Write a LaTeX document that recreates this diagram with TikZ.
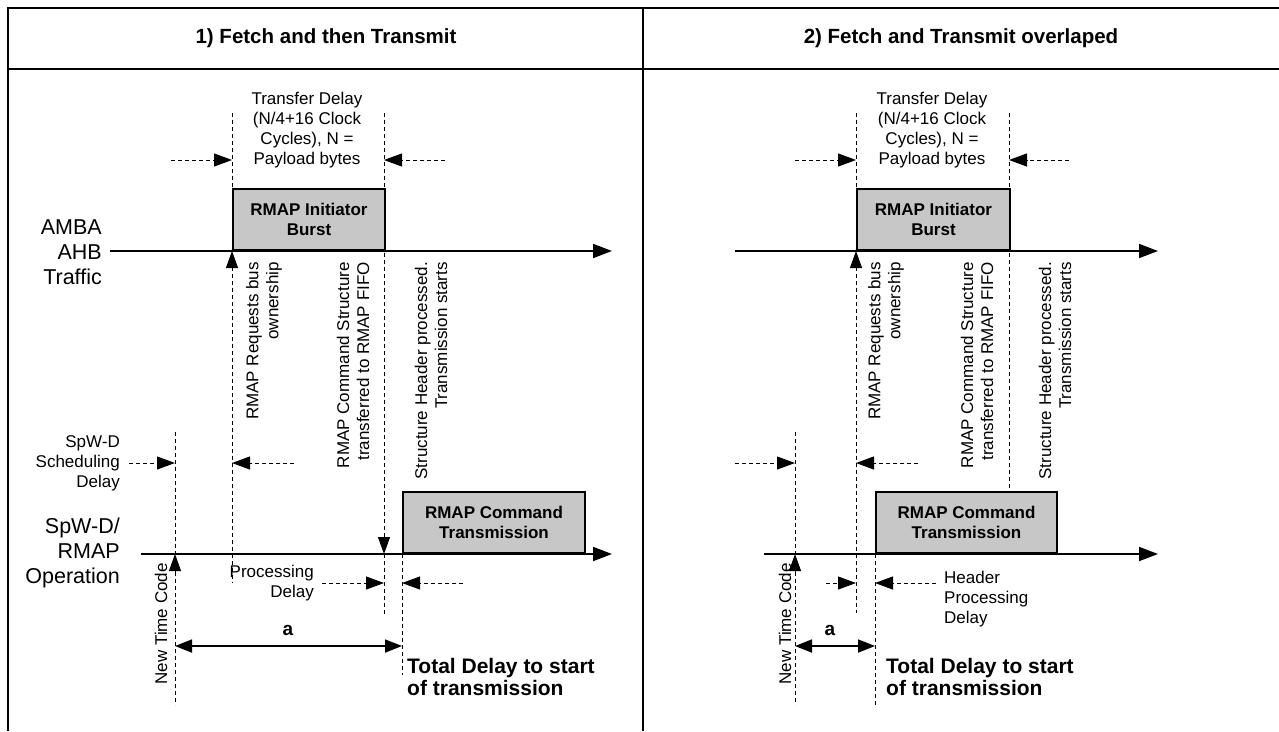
\documentclass[tikz,border=0pt]{standalone}
\usepackage{fontspec}
\setmainfont{Liberation Sans}
\usetikzlibrary{arrows.meta, positioning}

\begin{document}
\begin{tikzpicture}[x=1pt, y=-1pt,
    txt/.style={font=\fontsize{17}{20}\selectfont, inner sep=0pt},
    bigtxt/.style={font=\fontsize{21.5}{25}\selectfont, inner sep=0pt, align=right, anchor=east},
    vtxt/.style={txt, rotate=90, anchor=east, align=right},
    boldtxt/.style={font=\fontsize{21}{22}\selectfont\bfseries, inner sep=0pt, align=left, anchor=west},
    title/.style={font=\fontsize{20.5}{22}\selectfont\bfseries, inner sep=0pt},
    burst/.style={draw, line width=2pt, fill=black!22, font=\fontsize{17}{20}\selectfont\bfseries,
        align=center, inner sep=0pt, anchor=south west, minimum height=61pt},
    guide/.style={line width=0.9pt, dash pattern=on 4pt off 3pt},
    dly/.style={guide, -{Triangle[length=18pt, width=13pt]}},
    tip/.style={line width=0.9pt, -{Triangle[length=17pt, width=12pt]}},
    axis/.style={line width=1.8pt, -{Triangle[length=19pt, width=14pt]}},
    dim/.style={line width=1.8pt, {Triangle[length=17pt, width=13pt]}-{Triangle[length=17pt, width=13pt]}}]

\useasboundingbox (0,0) rectangle (1279,731);

% Frame of the table
\coordinate (tl) at (8,8);
\coordinate (tr) at (1279,8);
\coordinate (ml) at (8,69);
\coordinate (mr) at (1279,69);
\coordinate (bl) at (8,731);
\coordinate (tm) at (643,8);
\coordinate (bm) at (643,731);
\draw[line width=1.8pt] (bl) -- (tl) -- (tr);
\draw[line width=1.8pt] (ml) -- (mr);
\draw[line width=1.8pt] (tm) -- (bm);

\node[title] (L-title) at (326,38) {1) Fetch and then Transmit};
\node[title] (R-title) at (961,38) {2) Fetch and Transmit overlaped};

% Points used by the left panel
\foreach \n/\x/\y in {L-v1t/232/113, L-v1b/232/583, L-v2t/384/113, L-v2b/384/615,
    L-v3t/175/432, L-v3b/175/705, L-v4t/402/554, L-v4b/402/675,
    L-e1/171/160, L-e2/445/160, L-e3/129/463, L-e4/294/463, L-e5/322/583, L-e6/463/583,
    L-u1/232/270, L-u2/384/535, L-u3/175/573,
    L-ax1/110/251, L-ax2/612/251, L-ax3/141/554, L-ax4/612/554,
    L-m1/175/646, L-m2/402/646}
{
    \coordinate (\n) at (\x,\y);
}

% Points used by the right panel
\foreach \n/\x/\y in {R-v1t/856/113, R-v1b/856/613, R-v2t/1009/113, R-v2b/1009/493,
    R-v3t/795/432, R-v3b/795/705, R-v4t/875/554, R-v4b/875/705,
    R-e1/795/160, R-e2/1069/160, R-e3/735/463, R-e4/918/463, R-e5/826/583, R-e6/936/583,
    R-u1/856/270, R-u3/795/573,
    R-ax1/735/251, R-ax2/1158/251, R-ax3/764/554, R-ax4/1158/554,
    R-m1/795/646, R-m2/875/646}
{
    \coordinate (\n) at (\x,\y);
}

% Dashed time marks
\foreach \p in {L, R}
{
    \draw[guide] (\p-v1t) -- (\p-v1b);
    \draw[guide] (\p-v2t) -- (\p-v2b);
    \draw[guide] (\p-v3t) -- (\p-v3b);
    \draw[guide] (\p-v4t) -- (\p-v4b);
}

% Bus and link time axes
\foreach \p in {L, R}
{
    \draw[axis] (\p-ax1) -- (\p-ax2);
    \draw[axis] (\p-ax3) -- (\p-ax4);
}

% Activity boxes
\node[burst, minimum width=152pt] (L-burst) at (232,251) {RMAP Initiator\\Burst};
\node[burst, minimum width=182pt] (L-cmd) at (402,554) {RMAP Command\\Transmission};
\node[burst, minimum width=153pt] (R-burst) at (856,251) {RMAP Initiator\\Burst};
\node[burst, minimum width=181pt] (R-cmd) at (875,554) {RMAP Command\\Transmission};

% Delay arrows
\draw[dly] (L-e1) -- (L-e1 -| L-v1t);
\draw[dly] (L-e2) -- (L-e2 -| L-v2t);
\draw[dly] (L-e3) -- (L-e3 -| L-v3t);
\draw[dly] (L-e4) -- (L-e4 -| L-v1t);
\draw[dly] (L-e5) -- (L-e5 -| L-v2t);
\draw[dly] (L-e6) -- (L-e6 -| L-v4t);
\draw[dly] (R-e1) -- (R-e1 -| R-v1t);
\draw[dly] (R-e2) -- (R-e2 -| R-v2t);
\draw[dly] (R-e3) -- (R-e3 -| R-v3t);
\draw[dly] (R-e4) -- (R-e4 -| R-v1t);
\draw[dly] (R-e5) -- (R-e5 -| R-v1t);
\draw[dly] (R-e6) -- (R-e6 -| R-v4t);

% Event tips on the axes
\draw[tip] (L-u1) -- (L-u1 |- L-ax1);
\draw[tip] (L-u2) -- (L-u2 |- L-ax3);
\draw[tip] (L-u3) -- (L-u3 |- L-ax3);
\draw[tip] (R-u1) -- (R-u1 |- R-ax1);
\draw[tip] (R-u3) -- (R-u3 |- R-ax3);

% Total delay
\draw[dim] (L-m1) -- (L-m2);
\draw[dim] (R-m1) -- (R-m2);
\node[title, font=\fontsize{19}{20}\selectfont\bfseries] (L-a) at (288,630) {a};
\node[title, font=\fontsize{19}{20}\selectfont\bfseries] (R-a) at (830,630) {a};
\node[boldtxt] (L-total) at (407,677) {Total Delay to start\\of transmission};
\node[boldtxt] (R-total) at (886,677) {Total Delay to start\\of transmission};

% Left panel labels
\node[txt, align=center] (L-td) at (307,130) {Transfer Delay\\(N/4+16 Clock\\Cycles), N =\\Payload bytes};
\node[bigtxt] (L-amba) at (102,252) {AMBA\\AHB\\Traffic};
\node[bigtxt] (L-spw) at (120,553) {SpW-D/\\RMAP\\Operation};
\node[txt, align=right, anchor=east] (L-sched) at (120,463) {SpW-D\\Scheduling\\Delay};
\node[txt, align=right, anchor=east] (L-proc) at (314,583) {Processing\\Delay};
\node[vtxt] (L-req) at (264,262) {RMAP Requests bus\\ownership};
\node[vtxt] (L-fifo) at (353,262) {RMAP Command Structure\\transferred to RMAP FIFO};
\node[vtxt] (L-hdr) at (431,262) {Structure Header processed.\\Transmission starts};
\node[vtxt] (L-ntc) at (161,563) {New Time Code};

% Right panel labels
\node[txt, align=center] (R-td) at (932,130) {Transfer Delay\\(N/4+16 Clock\\Cycles), N =\\Payload bytes};
\node[txt, align=left, anchor=west] (R-proc) at (944,599) {Header\\Processing\\Delay};
\node[vtxt] (R-req) at (886,262) {RMAP Requests bus\\ownership};
\node[vtxt] (R-fifo) at (977,262) {RMAP Command Structure\\transferred to RMAP FIFO};
\node[vtxt] (R-hdr) at (1055,262) {Structure Header processed.\\Transmission starts};
\node[vtxt] (R-ntc) at (785,563) {New Time Code};

\end{tikzpicture}
\end{document}
